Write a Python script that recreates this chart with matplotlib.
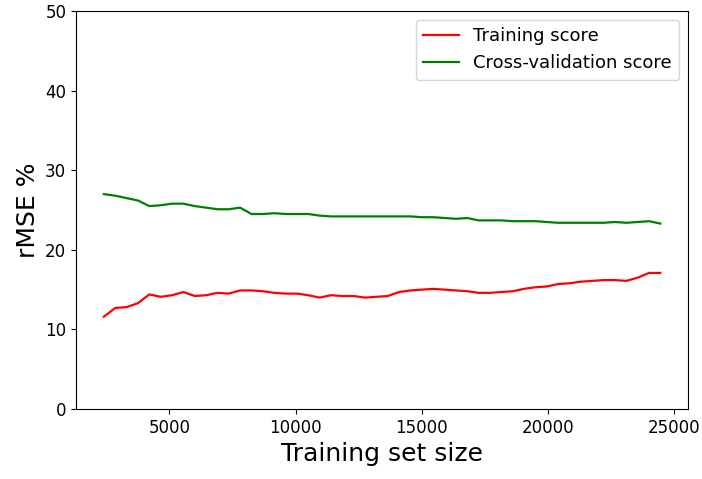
import numpy as np
import matplotlib
matplotlib.use('Agg')
import matplotlib.pyplot as plt

# 训练集大小（learning curve 的横坐标）
train_sizes = [2400, 2850, 3300, 3750, 4200, 4650, 5100, 5550, 6000, 6450,
               6900, 7350, 7800, 8250, 8700, 9150, 9600, 10050, 10500, 10950,
               11400, 11850, 12300, 12750, 13200, 13650, 14100, 14550, 15000, 15450,
               15900, 16350, 16800, 17250, 17700, 18150, 18600, 19050, 19500, 19950,
               20400, 20850, 21300, 21750, 22200, 22650, 23100, 23550, 24000, 24450]

train_scores = [11.6, 12.7, 12.8, 13.3, 14.4, 14.1, 14.3, 14.7, 14.2, 14.3,
                14.6, 14.5, 14.9, 14.9, 14.8, 14.6, 14.5, 14.5, 14.3, 14.0,
                14.3, 14.2, 14.2, 14.0, 14.1, 14.2, 14.7, 14.9, 15.0, 15.1,
                15.0, 14.9, 14.8, 14.6, 14.6, 14.7, 14.8, 15.1, 15.3, 15.4,
                15.7, 15.8, 16.0, 16.1, 16.2, 16.2, 16.1, 16.5, 17.1, 17.1]

cv_scores = [27.0, 26.8, 26.5, 26.2, 25.5, 25.6, 25.8, 25.8, 25.5, 25.3,
             25.1, 25.1, 25.3, 24.5, 24.5, 24.6, 24.5, 24.5, 24.5, 24.3,
             24.2, 24.2, 24.2, 24.2, 24.2, 24.2, 24.2, 24.2, 24.1, 24.1,
             24.0, 23.9, 24.0, 23.7, 23.7, 23.7, 23.6, 23.6, 23.6, 23.5,
             23.4, 23.4, 23.4, 23.4, 23.4, 23.5, 23.4, 23.5, 23.6, 23.3]

fig = plt.figure(figsize=(7.02, 4.79), dpi=100)
ax = fig.add_axes([0.1083, 0.146, 0.872, 0.831])

ax.plot(train_sizes, train_scores, color='r', lw=1.6, label='Training score')
ax.plot(train_sizes, cv_scores, color='g', lw=1.6, label='Cross-validation score')

ax.set_ylim(0, 50)
ax.set_yticks(np.arange(0, 51, 10))
ax.set_xticks([5000, 10000, 15000, 20000, 25000])
ax.tick_params(labelsize=12)

ax.set_xlabel('Training set size', fontsize=18)
ax.set_ylabel('rMSE %', fontsize=18)

ax.legend(loc='upper right', fontsize=13)

fig.savefig('out.png', dpi=100)
